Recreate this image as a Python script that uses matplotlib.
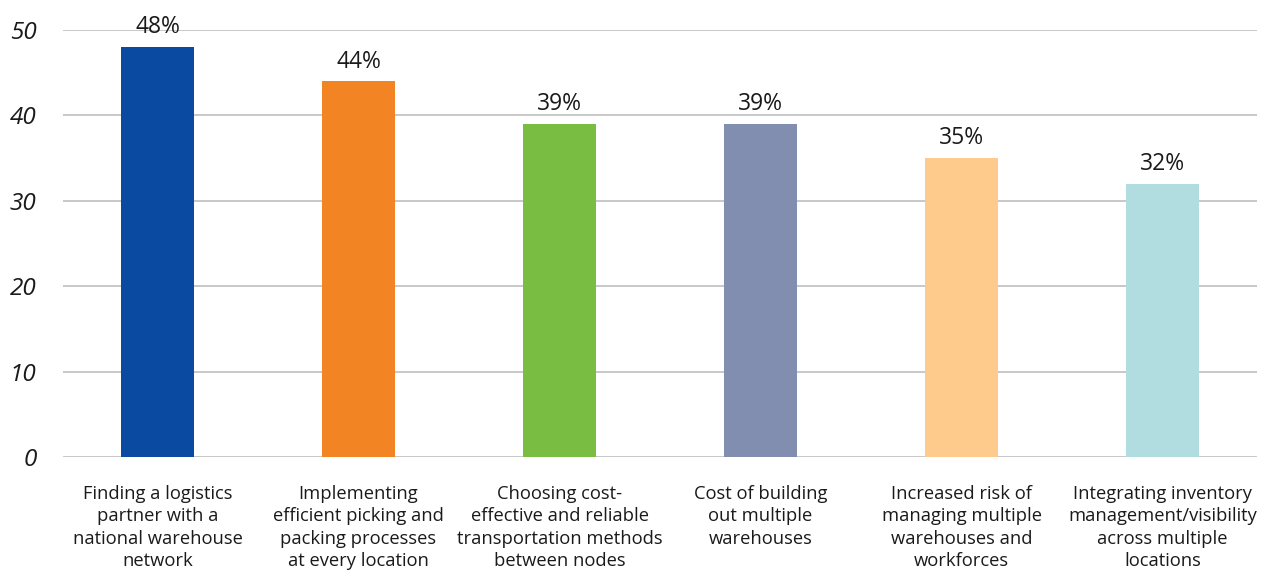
import matplotlib.pyplot as plt

categories = [
    "Finding a logistics\npartner with a\nnational warehouse\nnetwork",
    "Implementing\nefficient picking and\npacking processes\nat every location",
    "Choosing cost-\neffective and reliable\ntransportation methods\nbetween nodes",
    "Cost of building\nout multiple\nwarehouses",
    "Increased risk of\nmanaging multiple\nwarehouses and\nworkforces",
    "Integrating inventory\nmanagement/visibility\nacross multiple\nlocations",
]
values = [48, 44, 39, 39, 35, 32]
colors = ["#0A4AA0", "#F28423", "#7ABD43", "#818EAF", "#FECB8C", "#B2DDE0"]
yticks = [0, 10, 20, 30, 40, 50]


def main():
    plt.rcParams['font.family'] = ['Open Sans', 'DejaVu Sans']
    fig = plt.figure(figsize=(12.71, 5.71), dpi=100)
    ax = fig.add_axes([0.0496, 0.1996, 0.9394, 0.7479])

    x = range(len(categories))
    bars = ax.bar(x, values, width=0.36, color=colors, zorder=2)
    # value labels sit a little above each bar
    for b, v in zip(bars, values):
        ax.text(b.get_x() + b.get_width() / 2, v + 1.6, f"{v}%",
                ha='center', va='baseline', fontsize=16.5, color='#1a1a1a', clip_on=False)

    ax.set_xlim(-0.47, 5.47)
    ax.set_ylim(0, 50)
    ax.set_yticks(yticks)
    ax.set_yticklabels([str(t) for t in yticks], fontsize=17.5, style='italic', color='#1a1a1a')
    ax.set_xticks(list(x))
    ax.set_xticklabels(categories, fontsize=13.2, color='#1a1a1a', linespacing=1.32, va='top')
    ax.tick_params(axis='y', length=0, pad=19)
    ax.tick_params(axis='x', length=0, pad=20)
    ax.grid(axis='y', color='#C8C8C8', linewidth=1.4, zorder=0)
    ax.set_axisbelow(True)
    for s in ax.spines.values():
        s.set_visible(False)

    fig.savefig('out.png', dpi=100)


if __name__ == '__main__':
    main()
